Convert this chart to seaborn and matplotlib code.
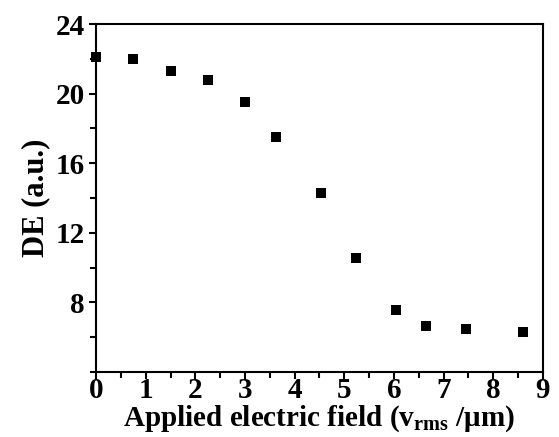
import matplotlib
matplotlib.use("Agg")
import matplotlib.pyplot as plt
import seaborn as sns
import pandas as pd
from matplotlib.ticker import MultipleLocator

field = [0.0, 0.75, 1.5, 2.25, 3.0, 3.62, 4.54, 5.24, 6.05, 6.65, 7.45, 8.6]
de = [22.1, 22.0, 21.3, 20.8, 19.5, 17.5, 14.3, 10.55, 7.55, 6.65, 6.45, 6.3]

sns.set_theme(style="ticks")
plt.rcParams['font.family'] = ['Liberation Serif', 'DejaVu Serif']
plt.rcParams['font.weight'] = 'bold'
plt.rcParams['text.color'] = 'black'
plt.rcParams['axes.labelcolor'] = 'black'
plt.rcParams['mathtext.fontset'] = 'custom'
plt.rcParams['mathtext.rm'] = 'Liberation Serif:bold'
plt.rcParams['mathtext.bf'] = 'Liberation Serif:bold'

df = pd.DataFrame({"field": field, "de": de})

fig = plt.figure(figsize=(5.59, 4.37), dpi=100)
ax = fig.add_axes([0.172, 0.149, 0.799, 0.796])
sns.scatterplot(data=df, x="field", y="de", marker="s", s=52, color="black",
                edgecolor="none", ax=ax, clip_on=False, zorder=5)

ax.set_xlim(0, 9)
ax.set_ylim(4, 24)
ax.xaxis.set_major_locator(MultipleLocator(1))
ax.xaxis.set_minor_locator(MultipleLocator(0.5))
ax.yaxis.set_major_locator(MultipleLocator(4))
ax.yaxis.set_minor_locator(MultipleLocator(2))
ax.set_yticks([8, 12, 16, 20, 24])

for sp in ax.spines.values():
    sp.set_linewidth(1.5)
    sp.set_visible(True)
    sp.set_color("black")

ax.tick_params(which="major", direction="out", length=5, width=1.5, labelsize=21, colors="black")
ax.tick_params(axis="x", which="major", pad=-1)
ax.tick_params(axis="y", which="major", pad=3)
ax.tick_params(which="minor", direction="out", length=4, width=1.5, colors="black")
for lab in ax.get_xticklabels() + ax.get_yticklabels():
    lab.set_fontweight("bold")

ax.set_xlabel(r"Applied electric field (v$_{\mathrm{rms}}$ /μm)", fontsize=21, fontweight="bold",
              labelpad=-0.5, color="black")
ax.set_ylabel("DE (a.u.)", fontsize=22, fontweight="bold", labelpad=4, color="black")

fig.savefig("out.png", dpi=100)
